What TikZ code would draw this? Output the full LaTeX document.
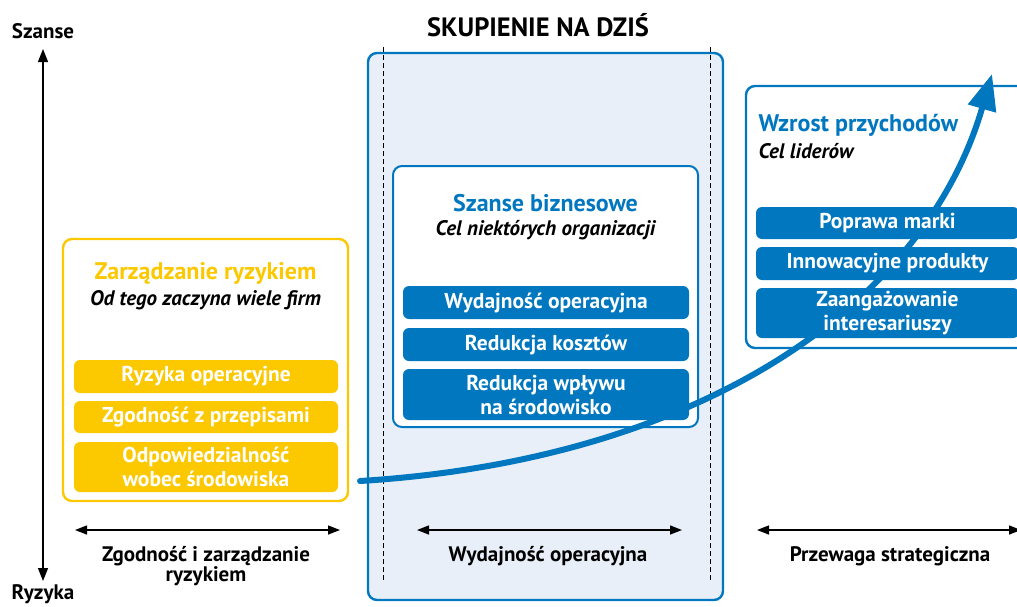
\documentclass[tikz,border=0pt]{standalone}
\usepackage{fontspec}
\setmainfont{PT Sans}
\usetikzlibrary{arrows.meta}
\definecolor{cblue}{RGB}{0,119,190}
\definecolor{cyellow}{RGB}{252,200,0}
\definecolor{cpale}{RGB}{232,239,248}
\begin{document}
\begin{tikzpicture}[x=1pt,y=-1pt,
  frame/.style={rounded corners=9pt,line width=2.4pt},
  sub/.style={rounded corners=6pt,text=white,align=center,inner sep=0pt,
    font=\bfseries\fontsize{21.5}{24}\selectfont},
  ysub/.style={sub,fill=cyellow,minimum width=264pt},
  bsub/.style={sub,fill=cblue,minimum width=286pt},
  rsub/.style={sub,fill=cblue,minimum width=263pt},
  ttl/.style={font=\bfseries\fontsize{24}{26}\selectfont},
  subttl/.style={font=\bfseries\itshape\fontsize{21}{23}\selectfont,text=black},
  lbl/.style={font=\bfseries\fontsize{21}{20}\selectfont,align=center,text=black},
  axis/.style={line width=1.4pt,{Triangle[length=13pt,width=10pt]}-{Triangle[length=13pt,width=10pt]}},
  spanarrow/.style={line width=1.4pt,{Triangle[length=12pt,width=9pt]}-{Triangle[length=12pt,width=9pt]}},
  growth/.style={cblue,line width=6pt,line cap=round,-{Triangle[length=36pt,width=28pt]}}
]
\useasboundingbox (0,0) rectangle (1017,606);
\clip (0,0) rectangle (1017,606);

% vertical axis
\coordinate (axtop) at (43,49);
\coordinate (axbot) at (43,581);
\draw[axis] (axbot) -- (axtop);
\node[lbl,anchor=center] (szanse) at (43,31) {Szanse};
\node[lbl,anchor=center] (ryzyka) at (43,594) {Ryzyka};

% middle column
\node[frame,draw=cblue,fill=cpale,minimum width=355pt,minimum height=547pt] (mid) at (545.5,326.5) {};
\coordinate (dl1) at (383,47); \coordinate (dl2) at (383,582);
\coordinate (dr1) at (710,47); \coordinate (dr2) at (710,582);
\draw[line width=0.9pt,dash pattern=on 5pt off 3pt] (dl1) -- (dl2);
\draw[line width=0.9pt,dash pattern=on 5pt off 3pt] (dr1) -- (dr2);
\node[font=\bfseries\fontsize{26.5}{28}\selectfont] (focus) at (538,25) {SKUPIENIE NA DZIŚ};

\node[rounded corners=9pt,draw=cblue,line width=2pt,fill=white,minimum width=305pt,minimum height=261pt] (inner) at (545.5,296.5) {};
\node[ttl,text=cblue] (biz) at (545.5,203) {Szanse biznesowe};
\node[subttl] (bizsub) at (545.5,230) {Cel niektórych organizacji};
\node[bsub,minimum height=33pt] (b1) at (546,302.5) {Wydajność operacyjna};
\node[bsub,minimum height=33pt] (b2) at (546,344.5) {Redukcja kosztów};
\node[bsub,minimum height=51pt] (b3) at (546,394.5) {Redukcja wpływu\\na środowisko};

% left column
\node[frame,draw=cyellow,fill=white,minimum width=285pt,minimum height=262pt] (left) at (205.5,370) {};
\node[ttl,text=cyellow] (risk) at (205.5,273) {Zarządzanie ryzykiem};
\node[subttl] (risksub) at (205.5,300) {Od tego zaczyna wiele firm};
\node[ysub,minimum height=33pt] (y1) at (206,376.5) {Ryzyka operacyjne};
\node[ysub,minimum height=32pt] (y2) at (206,417) {Zgodność z przepisami};
\node[ysub,minimum height=50pt] (y3) at (206,467) {Odpowiedzialność\\wobec środowiska};

% right column frame
\node[frame,draw=cblue,fill=white,minimum width=284pt,minimum height=262pt] (right) at (888,217) {};

% growth curve
\coordinate (gstart) at (360,481);
\coordinate (gend) at (992,74);
\draw[growth] (gstart) .. controls (700,460) and (925,305) .. (gend);

% right column contents
\node[ttl,text=cblue,anchor=west] (rev) at (755,125) {Wzrost przychodów};
\node[subttl,anchor=west] (revsub) at (755,151) {Cel liderów};
\node[rsub,minimum height=32pt] (r1) at (887.5,223) {Poprawa marki};
\node[rsub,minimum height=33pt] (r2) at (887.5,263.5) {Innowacyjne produkty};
\node[rsub,minimum height=50pt] (r3) at (887.5,313) {Zaangażowanie\\interesariuszy};

% bottom spans
\coordinate (s1a) at (75,530); \coordinate (s1b) at (340,530);
\coordinate (s2a) at (417,530); \coordinate (s2b) at (682,530);
\coordinate (s3a) at (757,530); \coordinate (s3b) at (1021,530);
\draw[spanarrow] (s1a) -- (s1b);
\draw[spanarrow] (s2a) -- (s2b);
\draw[spanarrow] (s3a) -- (s3b);
\node[lbl] (l1) at (206,566) {Zgodność i zarządzanie\\ryzykiem};
\node[lbl] (l2) at (548,556) {Wydajność operacyjna};
\node[lbl] (l3) at (890,556) {Przewaga strategiczna};
\end{tikzpicture}
\end{document}
